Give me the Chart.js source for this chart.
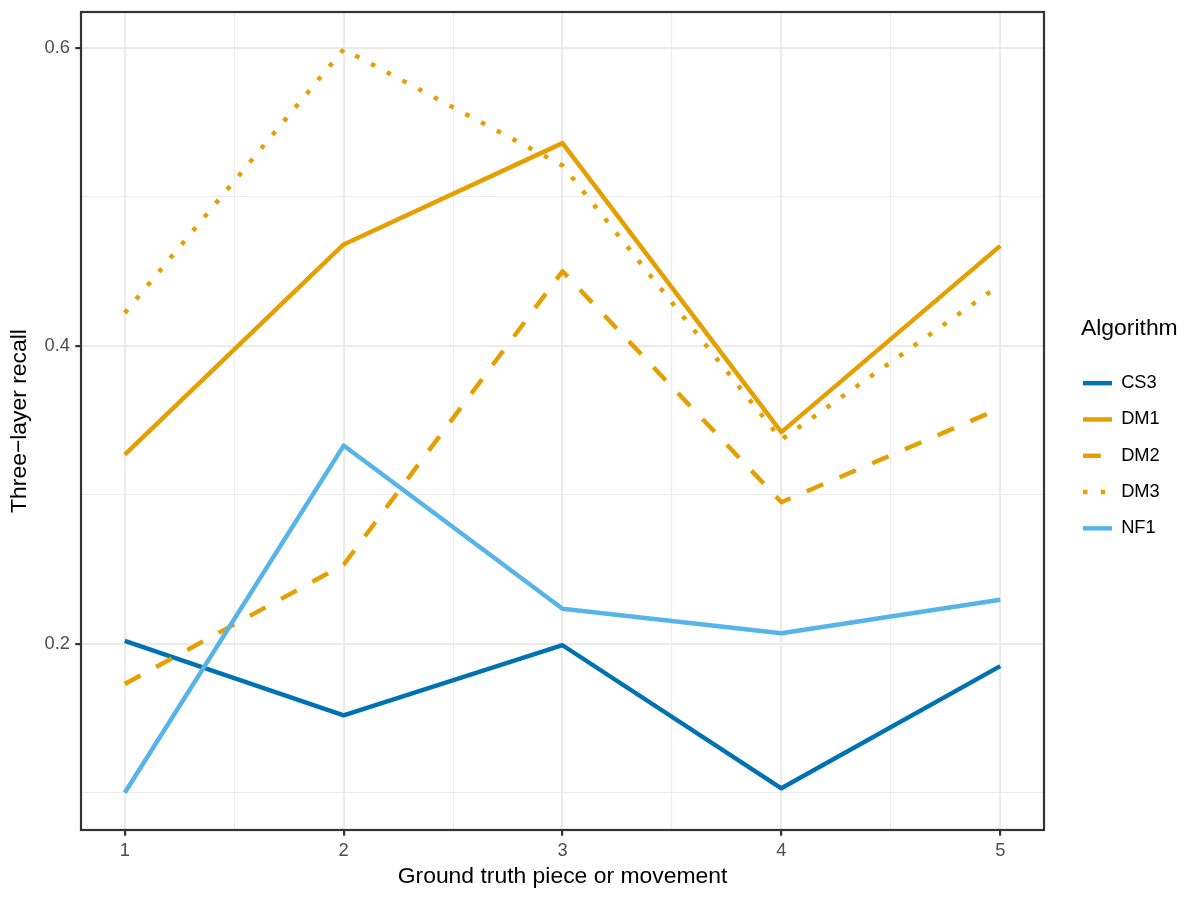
<!DOCTYPE html>
<html>
<head>
<meta charset="utf-8">
<title>Three-layer recall</title>
<script src="https://cdn.jsdelivr.net/npm/chart.js@4.4.1/dist/chart.umd.min.js"></script>
<style>
  html, body { margin: 0; padding: 0; background: #fff; }
  #wrap { width: 1200px; height: 900px; }
</style>
</head>
<body>
<div id="wrap"><canvas id="chart" width="1200" height="900"></canvas></div>
<script>
// x: ground truth piece / movement
const pieces = [1, 2, 3, 4, 5];

// recall per algorithm
const cs3 = [0.202, 0.152, 0.199, 0.103, 0.185];
const dm1 = [0.327, 0.468, 0.536, 0.342, 0.467];
const dm2 = [0.173, 0.253, 0.450, 0.295, 0.358];
const dm3 = [0.422, 0.599, 0.521, 0.337, 0.441];
const nf1 = [0.100, 0.333, 0.2235, 0.207, 0.2295];

// ticks (empty label = minor gridline only)
const xTicks = [1, 1.5, 2, 2.5, 3, 3.5, 4, 4.5, 5];
const xLabels = ['1', '', '2', '', '3', '', '4', '', '5'];
const yTicks = [0.1, 0.2, 0.3, 0.4, 0.5, 0.6];
const yLabels = ['', '0.2', '', '0.4', '', '0.6'];

const FONT = '"Liberation Sans", Arial, sans-serif';
Chart.defaults.font.family = FONT;
Chart.defaults.animation = false;

const LW = 4.45; // ggplot linewidth 1 at 150 dpi

const series = [
    { label: 'CS3', values: cs3, color: '#0072B2', dash: [] },
    { label: 'DM1', values: dm1, color: '#E69F00', dash: [] },
    { label: 'DM2', values: dm2, color: '#E69F00', dash: [4 * LW, 4 * LW] },
    { label: 'DM3', values: dm3, color: '#E69F00', dash: [LW, 3 * LW] },
    { label: 'NF1', values: nf1, color: '#56B4E9', dash: [] }
];

const datasets = series.map((s, i) => ({
    label: s.label,
    data: pieces.map((p, j) => ({ x: p, y: s.values[j] })),
    borderColor: s.color,
    backgroundColor: s.color,
    borderDash: s.dash,
    borderWidth: LW,
    borderCapStyle: 'butt',
    borderJoinStyle: 'round',
    pointRadius: 0,
    pointHoverRadius: 0,
    tension: 0,
    fill: false,
    order: series.length - 1 - i   // later groups drawn on top, like ggplot
}));

// panel border on all four sides
const panelBorder = {
    id: 'panelBorder',
    afterDatasetsDraw(chart) {
        const { ctx, chartArea: a } = chart;
        ctx.save();
        ctx.strokeStyle = '#333333';
        ctx.lineWidth = 2.2;
        ctx.strokeRect(a.left, a.top, a.right - a.left, a.bottom - a.top);
        ctx.restore();
    }
};

// fixed legend width / position and its title
const legendPlace = {
    id: 'legendPlace',
    beforeUpdate(chart) {
        const lg = chart.legend;
        if (lg && !lg._fixedFit) {
            const fit = lg.fit;
            lg.fit = function () { fit.call(this); this.width = 156; };
            lg._fixedFit = true;
        }
    },
    afterLayout(chart) {
        const lg = chart.legend;
        const h = lg.bottom - lg.top;
        lg.left = 1065; lg.right = 1200;
        lg.top = 356; lg.bottom = 356 + h;
    },
    afterDraw(chart) {
        const ctx = chart.ctx;
        ctx.save();
        ctx.font = '22.9px ' + FONT;
        ctx.fillStyle = '#000000';
        ctx.textAlign = 'left';
        ctx.textBaseline = 'alphabetic';
        ctx.fillText('Algorithm', 1081, 335);
        ctx.restore();
    }
};

const ctx = document.getElementById('chart').getContext('2d');
new Chart(ctx, {
    type: 'line',
    data: { datasets: datasets },
    options: {
        responsive: false,
        devicePixelRatio: 1,
        layout: { padding: { top: 12, left: 0, right: 0, bottom: 0 } },
        plugins: {
            tooltip: { enabled: false },
            legend: {
                position: 'right',
                align: 'start',
                labels: {
                    usePointStyle: true,
                    pointStyle: 'line',
                    pointStyleWidth: 29,
                    padding: 18,
                    color: '#000000',
                    font: { size: 18.3 },
                    sort: (a, b) => a.datasetIndex - b.datasetIndex,
                    generateLabels(chart) {
                        const items = Chart.defaults.plugins.legend.labels.generateLabels(chart);
                        items.forEach(it => {
                            const ds = chart.data.datasets[it.datasetIndex];
                            it.lineDash = ds.borderDash;
                            it.lineWidth = LW;
                            it.strokeStyle = ds.borderColor;
                            it.lineCap = 'butt';
                        });
                        return items;
                    }
                }
            }
        },
        scales: {
            x: {
                type: 'linear',
                min: 0.8,
                max: 5.2,
                afterBuildTicks: s => { s.ticks = xTicks.map(v => ({ value: v })); },
                afterFit: s => { s.height = 70; s.paddingLeft = 0; s.paddingRight = 0; },
                border: { display: false },
                grid: {
                    color: '#EBEBEB',
                    lineWidth: c => xLabels[c.index] ? 2.2 : 1.1,
                    tickColor: c => xLabels[c.index] ? '#333333' : 'rgba(0,0,0,0)',
                    tickWidth: 2.2,
                    tickLength: 5.7
                },
                ticks: {
                    autoSkip: false,
                    maxRotation: 0,
                    padding: 4,
                    color: '#4D4D4D',
                    font: { size: 18.3 },
                    callback: (v, i) => xLabels[i]
                },
                title: {
                    display: true,
                    text: 'Ground truth piece or movement',
                    color: '#000000',
                    font: { size: 22.9 },
                    padding: { top: 0, bottom: 10 }
                }
            },
            y: {
                type: 'linear',
                min: 0.075,
                max: 0.624,
                afterBuildTicks: s => { s.ticks = yTicks.map(v => ({ value: v })); },
                afterFit: s => { s.width = 81; s.paddingTop = 0; s.paddingBottom = 0; },
                border: { display: false },
                grid: {
                    color: '#EBEBEB',
                    lineWidth: c => yLabels[c.index] ? 2.2 : 1.1,
                    tickColor: c => yLabels[c.index] ? '#333333' : 'rgba(0,0,0,0)',
                    tickWidth: 2.2,
                    tickLength: 5.7
                },
                ticks: {
                    autoSkip: false,
                    padding: 5.3,
                    color: '#4D4D4D',
                    font: { size: 18.3 },
                    callback: (v, i) => yLabels[i]
                },
                title: {
                    display: true,
                    text: 'Three\u2212layer recall',
                    color: '#000000',
                    font: { size: 22.9 },
                    padding: { top: 6, bottom: 0 }
                }
            }
        }
    },
    plugins: [panelBorder, legendPlace]
});
</script>
</body>
</html>
